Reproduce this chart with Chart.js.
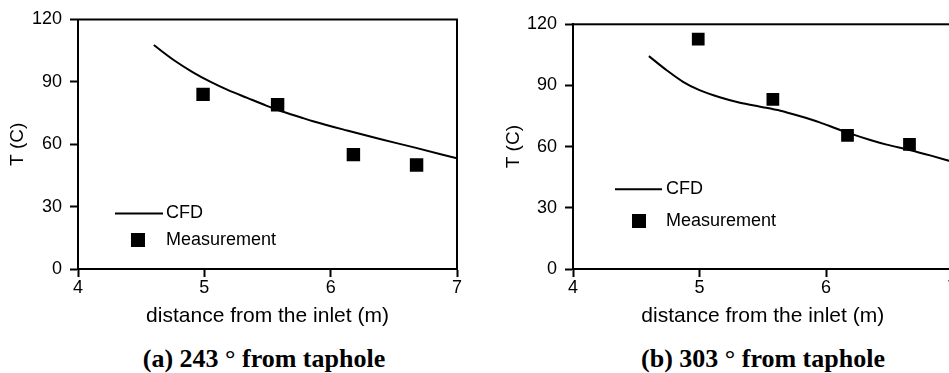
<!DOCTYPE html>
<html><head><meta charset="utf-8">
<script src="https://cdn.jsdelivr.net/npm/chart.js@4"></script>
<style>
html,body{margin:0;padding:0;background:#fff;width:949px;height:373px;overflow:hidden;position:relative}
canvas{position:absolute;top:0}
#ca{left:0}
#cb{left:470px}
.cap{position:absolute;top:344px;font:bold 26px "Liberation Serif","Times New Roman",serif;line-height:30px;white-space:nowrap;transform:translateX(-50%);color:#000}
</style></head><body>
<canvas id="ca" width="470" height="340"></canvas>
<canvas id="cb" width="500" height="340"></canvas>
<div class="cap" style="left:264px">(a) 243 ° from taphole</div>
<div class="cap" style="left:763px">(b) 303 ° from taphole</div>
<script>
// ---- data ----
const xTicks = [4, 5, 6, 7];
const yTicks = [0, 30, 60, 90, 120];
const seriesNames = ['CFD', 'Measurement'];
const xTitle = 'distance from the inlet (m)';
const yTitle = 'T (C)';

const cfdA_x = [4.60, 4.76, 4.91, 5.05, 5.18, 5.34, 5.49, 5.61, 5.76, 5.86, 6.13, 6.39, 6.66, 7.00];
const cfdA_y = [107.7, 100.4, 94.6, 90.0, 86.3, 82.3, 78.6, 75.9, 73.0, 71.1, 66.6, 62.5, 58.5, 53.2];
const measA_x = [4.99, 5.58, 6.18, 6.68];
const measA_y = [84, 79, 55, 50];

const cfdB_x = [4.60, 4.74, 4.87, 5.00, 5.16, 5.32, 5.48, 5.64, 5.79, 5.95, 6.08, 6.17, 6.35, 6.48, 6.66, 6.83, 7.00];
const cfdB_y = [104.4, 97.5, 91.8, 87.7, 84.2, 81.5, 79.6, 77.6, 75.0, 71.9, 68.9, 66.9, 63.3, 61.0, 58.4, 55.6, 52.6];
const measB_x = [4.99, 5.58, 6.17, 6.66];
const measB_y = [112.7, 83.2, 65.5, 61.1];

// ---- drawing ----
const FAM = '"Liberation Sans", Arial, Helvetica, sans-serif';

const frameLegend = {
  id: 'frameLegend',
  afterDatasetsDraw(chart, args, o) {
    const {ctx, chartArea: a} = chart;
    ctx.save();
    ctx.strokeStyle = '#000';
    ctx.lineWidth = 2;
    ctx.strokeRect(a.left, a.top, a.right - a.left, a.bottom - a.top);
    const ly = a.top + o.lineY, sy = a.top + o.sqY;
    ctx.beginPath();
    ctx.moveTo(a.left + o.lineX0, ly);
    ctx.lineTo(a.left + o.lineX1, ly);
    ctx.stroke();
    ctx.fillStyle = '#000';
    const s = o.sq;
    ctx.fillRect(a.left + o.sqX - s / 2, sy - s / 2, s, s);
    ctx.font = '18px ' + FAM;
    ctx.textBaseline = 'middle';
    ctx.textAlign = 'left';
    ctx.fillText(chart.data.datasets[0].label, a.left + o.textX, ly);
    ctx.fillText(chart.data.datasets[1].label, a.left + o.textX, sy);
    ctx.restore();
  }
};

function pts(xs, ys) { return xs.map((x, i) => ({x: x, y: ys[i]})); }

function makeChart(id, cx, cy, mx, my, opt) {
  return new Chart(document.getElementById(id), {
    type: 'scatter',
    data: {datasets: [
      {label: seriesNames[0], data: pts(cx, cy), showLine: true, borderColor: '#000', borderWidth: 2,
       pointRadius: 0, cubicInterpolationMode: 'monotone', fill: false},
      {label: seriesNames[1], data: pts(mx, my), showLine: false, pointStyle: 'rect', pointRadius: opt.pr,
       backgroundColor: '#000', borderColor: '#000', borderWidth: 0}
    ]},
    options: {
      responsive: false, animation: false, devicePixelRatio: 1,
      layout: {padding: {top: opt.top, right: opt.right, left: 0, bottom: 0}},
      plugins: {legend: {display: false}, tooltip: {enabled: false}, frameLegend: opt.legend},
      scales: {
        x: {type: 'linear', min: xTicks[0], max: xTicks[xTicks.length - 1],
            ticks: {stepSize: xTicks[1] - xTicks[0], color: '#000', font: {size: 18, family: FAM}, padding: 0, maxRotation: 0},
            grid: {drawOnChartArea: false, drawTicks: true, tickLength: 8, tickColor: '#000', tickWidth: 2},
            border: {color: '#000', width: 2},
            title: {display: true, text: xTitle, color: '#000', font: {size: 21, family: FAM}, padding: {top: 0, bottom: 11}},
            afterFit(s) { s.height = 71; }},
        y: {type: 'linear', min: yTicks[0], max: yTicks[yTicks.length - 1],
            ticks: {stepSize: yTicks[1] - yTicks[0], color: '#000', font: {size: 18, family: FAM}, padding: 8},
            grid: {drawOnChartArea: false, drawTicks: true, tickLength: 8, tickColor: '#000', tickWidth: 2},
            border: {color: '#000', width: 2},
            title: {display: true, text: yTitle, color: '#000', font: {size: 19, family: FAM}, padding: {top: opt.ytp, bottom: 0}},
            afterFit(s) { s.width = opt.yw; }}
      }
    },
    plugins: [frameLegend]
  });
}

makeChart('ca', cfdA_x, cfdA_y, measA_x, measA_y, {
  pr: 9.5, top: 19.5, right: 13, yw: 78, ytp: 6,
  legend: {lineX0: 37, lineX1: 85, lineY: 194, textX: 88, sqX: 60, sqY: 220.5, sq: 14}
});
makeChart('cb', cfdB_x, cfdB_y, measB_x, measB_y, {
  pr: 9, top: 24.3, right: 17.5, yw: 103, ytp: 32.6,
  legend: {lineX0: 42, lineX1: 89, lineY: 165, textX: 93, sqX: 66, sqY: 196.7, sq: 14}
});
</script>
</body></html>
